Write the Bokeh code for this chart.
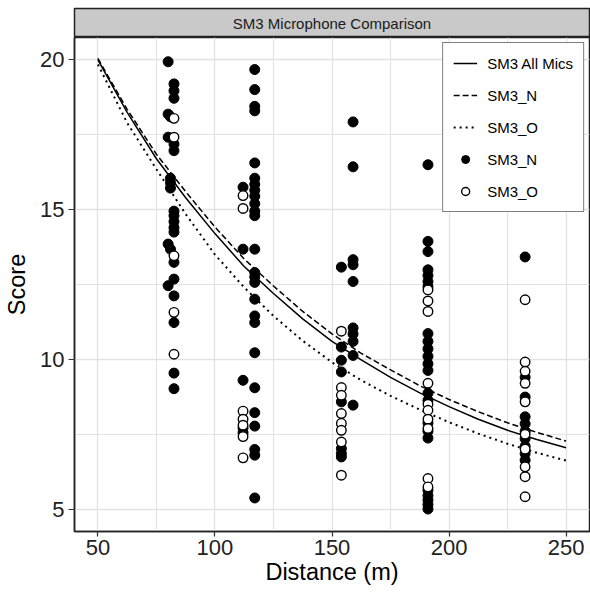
from bokeh.plotting import figure
from bokeh.layouts import column
from bokeh.models import FixedTicker, Legend, LegendItem, Range1d
from bokeh.core.properties import value
from bokeh.embed import file_html
from bokeh.resources import INLINE

FONT_NAME = "Liberation Sans"

title_text = "SM3 Microphone Comparison"
x_title = "Distance (m)"
y_title = "Score"
x_ticks = [50, 100, 150, 200, 250]
x_minor = [75, 125, 175, 225]
y_ticks = [5, 10, 15, 20]
y_minor = [7.5, 12.5, 17.5]

# fitted curves
curve_distance = [50, 62.5, 75, 87.5, 100, 112.5, 125, 137.5, 150, 162.5, 175, 187.5, 200, 212.5, 225, 237.5, 250]
all_mics_fit = [20.0, 18.25, 16.7, 15.4, 14.2, 13.1, 12.2, 11.35, 10.6, 9.98, 9.4, 8.88, 8.42, 8.0, 7.63, 7.32, 7.05]
n_fit = [20.05, 18.35, 16.85, 15.6, 14.42, 13.35, 12.45, 11.6, 10.85, 10.2, 9.65, 9.12, 8.66, 8.25, 7.88, 7.56, 7.27]
o_fit = [19.85, 17.9, 16.35, 14.85, 13.5, 12.4, 11.45, 10.62, 9.9, 9.3, 8.78, 8.32, 7.9, 7.52, 7.18, 6.88, 6.62]

# SM3_N observations (filled)
n_distance = [80, 82.5, 82.5, 82.5, 80, 81, 80, 82.5, 82.5, 81, 81, 81, 82.5, 82.5, 82.5, 82.5, 82.5, 80, 81, 82.5, 82.5, 80, 82.5, 82.5, 82.5, 82.5,
              117, 117, 117, 117, 117, 117, 117, 117, 117, 117, 117, 117, 112, 112, 117, 117, 117, 117, 117, 117, 117, 117, 112, 117, 117, 112, 112, 117, 117, 117, 117,
              159, 159, 159, 159, 154, 159, 159, 159, 159, 154, 159, 154, 154, 154, 159, 154, 154, 154,
              191, 191, 191, 191, 191, 191, 191, 191, 191, 191, 191, 191, 191, 191, 191, 191, 191, 191, 191, 191, 191, 191, 191,
              232.5, 232.5, 232.5, 232.5, 232.5, 232.5, 232.5, 232.5, 232.5, 232.5]
n_score = [19.94, 19.2, 18.97, 18.72, 18.19, 18.1, 17.42, 17.19, 16.97, 16.05, 15.9, 15.72, 14.95, 14.8, 14.6, 14.4, 14.25, 13.85, 13.68, 13.24, 12.68, 12.46, 12.12, 11.23, 9.54, 9.02,
           19.68, 19.01, 18.45, 18.3, 16.56, 16.05, 15.85, 15.65, 15.45, 15.2, 14.95, 14.8, 15.75, 13.68, 13.68, 12.9, 12.75, 12.57, 12.01, 11.45, 11.23, 10.22, 9.3, 9.05, 8.22, 7.7, 7.55, 7.77, 6.99, 6.8, 5.37,
           17.93, 16.43, 13.33, 13.16, 13.08, 12.6, 11.05, 10.85, 10.6, 10.41, 10.13, 9.97, 9.58, 8.58, 8.47, 7.02, 6.85, 6.74,
           16.5, 13.94, 13.6, 12.99, 12.8, 12.6, 12.43, 10.86, 10.6, 10.35, 10.1, 9.85, 9.63, 8.87, 8.63, 7.87, 7.6, 7.37, 5.63, 5.45, 5.3, 5.15, 5.0,
           13.42, 9.4, 8.74, 8.08, 7.85, 7.6, 7.35, 7.1, 6.85, 6.63]

# SM3_O observations (open)
o_distance = [82.5, 82.5, 82.5, 82.5, 82.5,
              112, 112, 112, 112, 112, 112, 112,
              154, 154, 154, 154, 154, 154, 154, 154,
              191, 191, 191, 191, 191, 191, 191, 191, 191, 191,
              232.5, 232.5, 232.5, 232.5, 232.5, 232.5, 232.5, 232.5, 232.5, 232.5]
o_score = [18.05, 17.42, 13.46, 11.57, 10.17,
           15.47, 15.04, 8.27, 8.0, 7.8, 7.42, 6.71,
           10.94, 9.06, 8.8, 8.19, 7.86, 7.63, 7.24, 6.13,
           12.32, 11.95, 11.6, 9.2, 8.5, 8.3, 8.0, 7.69, 6.02, 5.74,
           11.99, 9.91, 9.6, 9.2, 8.58, 7.5, 7.0, 6.41, 6.08, 5.41]

W = 590
LEFT = 74
RIGHT = 1

# facet strip
strip = figure(width=W, height=37, x_range=Range1d(0, 1), y_range=Range1d(0, 1),
               output_backend="svg", toolbar_location=None,
               min_border_left=LEFT, min_border_right=RIGHT, min_border_top=8, min_border_bottom=0,
               x_axis_location=None, y_axis_location=None)
strip.background_fill_color = "#c9c9c9"
strip.border_fill_color = "white"
strip.outline_line_color = "#222222"
strip.outline_line_width = 1.5
strip.grid.visible = False
strip.text(x=[0.5], y=[0.5], text=[title_text], text_align="center", text_baseline="middle",
           text_font=value(FONT_NAME), text_font_size="15px", text_color="#1a1a1a")

p = figure(width=W, height=558, x_range=Range1d(40, 260), y_range=Range1d(4.25, 20.75),
           output_backend="svg", toolbar_location=None,
           min_border_left=LEFT, min_border_right=RIGHT, min_border_top=0, min_border_bottom=64)
p.background_fill_color = "white"
p.outline_line_color = "#222222"
p.outline_line_width = 1.5

p.xaxis.ticker = FixedTicker(ticks=x_ticks, minor_ticks=x_minor)
p.yaxis.ticker = FixedTicker(ticks=y_ticks, minor_ticks=y_minor)
for g in (p.xgrid, p.ygrid):
    g.grid_line_color = "#e2e2e2"
    g.grid_line_width = 1.3
    g.minor_grid_line_color = "#e2e2e2"
    g.minor_grid_line_width = 1.1

for ax in (p.xaxis, p.yaxis):
    ax.axis_line_color = "#222222"
    ax.axis_line_width = 1.5
    ax.major_tick_line_color = "#333333"
    ax.major_tick_line_width = 1.2
    ax.major_tick_in = 0
    ax.minor_tick_line_color = None
    ax.major_label_text_font = FONT_NAME
    ax.major_label_text_font_size = "22px"
    ax.major_label_text_color = "#222222"
    ax.axis_label_text_font = FONT_NAME
    ax.axis_label_text_font_size = "23.5px"
    ax.axis_label_text_font_style = "normal"
    ax.axis_label_text_color = "black"
p.xaxis.axis_label = x_title
p.yaxis.axis_label = y_title
p.xaxis.major_tick_out = 5
p.xaxis.major_label_standoff = 3
p.xaxis.axis_label_standoff = 1
p.yaxis.major_tick_out = 6
p.yaxis.major_label_standoff = 4
p.yaxis.axis_label_standoff = 7

r_all = p.line(curve_distance, all_mics_fit, line_color="black", line_width=1.5)
r_nl = p.line(curve_distance, n_fit, line_color="black", line_width=1.5, line_dash="6 3")
r_ol = p.line(curve_distance, o_fit, line_color="black", line_width=2, line_dash="2 4")
r_np = p.scatter(n_distance, n_score, marker="circle", size=10, fill_color="black", line_color="black")
r_op = p.scatter(o_distance, o_score, marker="circle", size=9.5, fill_color="white", line_color="black", line_width=1.4)

legend = Legend(items=[
    LegendItem(label="SM3 All Mics", renderers=[r_all]),
    LegendItem(label="SM3_N", renderers=[r_nl]),
    LegendItem(label="SM3_O", renderers=[r_ol]),
    LegendItem(label="SM3_N", renderers=[r_np]),
    LegendItem(label="SM3_O", renderers=[r_op]),
], location="top_right")
legend.margin = 5
legend.padding = 10
legend.spacing = 12
legend.label_height = 20
legend.glyph_height = 20
legend.glyph_width = 24
legend.label_standoff = 10
legend.label_text_font = FONT_NAME
legend.label_text_font_size = "15px"
legend.label_text_color = "black"
legend.border_line_color = "black"
legend.border_line_width = 1.5
legend.background_fill_color = "white"
legend.background_fill_alpha = 1
p.add_layout(legend)

layout = column(strip, p, spacing=0)
open("out.html", "w").write(file_html(layout, INLINE))
